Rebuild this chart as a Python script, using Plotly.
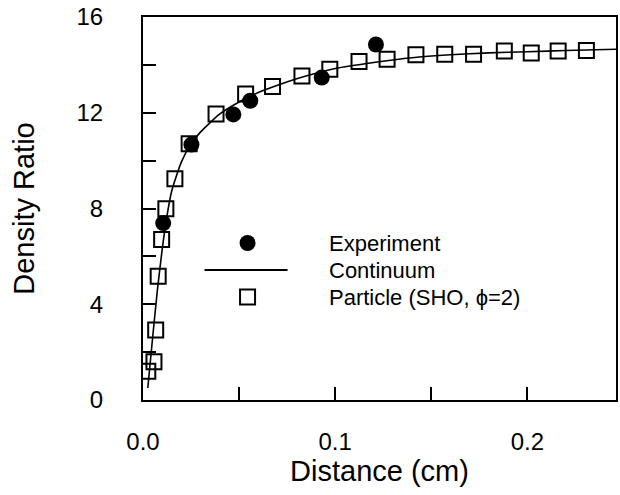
import plotly.graph_objects as go

# Experiment (filled circles)
exp_x = [0.0105, 0.0252, 0.0470, 0.0558, 0.0930, 0.1212]
exp_y = [7.39, 10.67, 11.93, 12.50, 13.47, 14.85]

# Continuum (solid line)
cont_x = [0.0025, 0.005, 0.0075, 0.010, 0.0125, 0.015, 0.020, 0.025, 0.030, 0.040,
          0.050, 0.060, 0.070, 0.080, 0.090, 0.100, 0.120, 0.140, 0.160, 0.180,
          0.200, 0.220, 0.2461]
cont_y = [0.5, 2.6, 4.6, 6.3, 7.7, 8.75, 9.95, 10.7, 11.2, 11.95,
          12.45, 12.85, 13.15, 13.42, 13.65, 13.85, 14.1, 14.3, 14.42, 14.5,
          14.55, 14.6, 14.65]

# Particle (SHO, phi=2) (open squares)
part_x = [0.0025, 0.0057, 0.0066, 0.0079, 0.0097, 0.0119, 0.0166, 0.0240, 0.0380,
          0.0534, 0.0674, 0.0827, 0.0972, 0.1124, 0.1270, 0.1420, 0.1570, 0.1720,
          0.1880, 0.2020, 0.2160, 0.2307]
part_y = [1.2, 1.6, 2.92, 5.17, 6.7, 7.99, 9.24, 10.7, 11.95,
          12.78, 13.1, 13.54, 13.82, 14.14, 14.24, 14.42, 14.44, 14.44,
          14.58, 14.5, 14.58, 14.6]

x_ticks = [0.0, 0.1, 0.2]
x_labels = ["0.0", "0.1", "0.2"]
y_ticks = [0, 4, 8, 12, 16]
y_labels = ["0", "4", "8", "12", "16"]

legend_names = ["Experiment", "Continuum", "Particle (SHO, ϕ=2)"]

FONT = "Liberation Sans, Arial, Helvetica, sans-serif"

W, H = 620, 495
ML, MR, MT, MB = 143, 2, 17, 95
PW, PH = W - ML - MR, H - MT - MB


def px_to_paper_x(px):
    return (px - ML) / PW


def px_to_paper_y(py):
    return (H - MB - py) / PH


fig = go.Figure()
fig.add_trace(go.Scatter(
    x=cont_x, y=cont_y, mode="lines", name=legend_names[1],
    line=dict(color="black", width=1.6, shape="spline", smoothing=0.6),
    showlegend=False,
))
fig.add_trace(go.Scatter(
    x=part_x, y=part_y, mode="markers", name=legend_names[2],
    marker=dict(symbol="square-open", size=15, color="black", line=dict(width=2, color="black")),
    showlegend=False,
))
fig.add_trace(go.Scatter(
    x=exp_x, y=exp_y, mode="markers", name=legend_names[0],
    marker=dict(symbol="circle", size=16, color="black"),
    showlegend=False,
))

# Hand-built legend (keys + labels) to match the original layout
key_cx = px_to_paper_x(248)
row_y = [px_to_paper_y(243), px_to_paper_y(270), px_to_paper_y(297)]
text_x = px_to_paper_x(328)

shapes = [
    dict(type="circle", xref="paper", yref="paper", xsizemode="pixel", ysizemode="pixel",
         xanchor=key_cx, yanchor=row_y[0], x0=-8, x1=8, y0=-8, y1=8,
         fillcolor="black", line=dict(color="black", width=0)),
    dict(type="line", xref="paper", yref="paper", xsizemode="pixel", ysizemode="pixel",
         xanchor=key_cx, yanchor=row_y[1], x0=-43, x1=40, y0=0, y1=0,
         line=dict(color="black", width=2)),
    dict(type="rect", xref="paper", yref="paper", xsizemode="pixel", ysizemode="pixel",
         xanchor=key_cx, yanchor=row_y[2], x0=-7.5, x1=7.5, y0=-7.5, y1=7.5,
         fillcolor="rgba(0,0,0,0)", line=dict(color="black", width=2)),
]
annotations = [
    dict(text=name, xref="paper", yref="paper", x=text_x, y=yy, xanchor="left",
         yanchor="middle", showarrow=False, font=dict(size=22, family=FONT, color="black"))
    for name, yy in zip(legend_names, row_y)
]

fig.update_layout(
    width=W, height=H,
    margin=dict(l=ML, r=MR, t=MT, b=MB),
    paper_bgcolor="white", plot_bgcolor="white",
    font=dict(family=FONT, color="black"),
    showlegend=False,
    shapes=shapes,
    annotations=annotations,
    xaxis=dict(
        range=[0, 0.2461], showgrid=False, zeroline=False,
        showline=True, linecolor="black", linewidth=2, mirror=True,
        ticks="inside", ticklen=13, tickwidth=2, tickcolor="black",
        tickvals=x_ticks, ticktext=x_labels,
        minor=dict(dtick=0.05, tick0=0, ticks="inside", ticklen=13, tickwidth=2, tickcolor="black", showgrid=False),
        tickfont=dict(size=24, family=FONT),
        ticklabelstandoff=19,
        title=dict(text="Distance (cm)", font=dict(size=29, family=FONT), standoff=6),
    ),
    yaxis=dict(
        range=[0, 16], showgrid=False, zeroline=False,
        showline=True, linecolor="black", linewidth=2, mirror=True,
        ticks="inside", ticklen=13, tickwidth=2, tickcolor="black",
        tickvals=y_ticks, ticktext=y_labels,
        minor=dict(dtick=2, tick0=0, ticks="inside", ticklen=13, tickwidth=2, tickcolor="black", showgrid=False),
        tickfont=dict(size=24, family=FONT),
        ticklabelstandoff=33,
        title=dict(text="Density Ratio", font=dict(size=29, family=FONT), standoff=33),
    ),
)

fig.write_html("out.html")
